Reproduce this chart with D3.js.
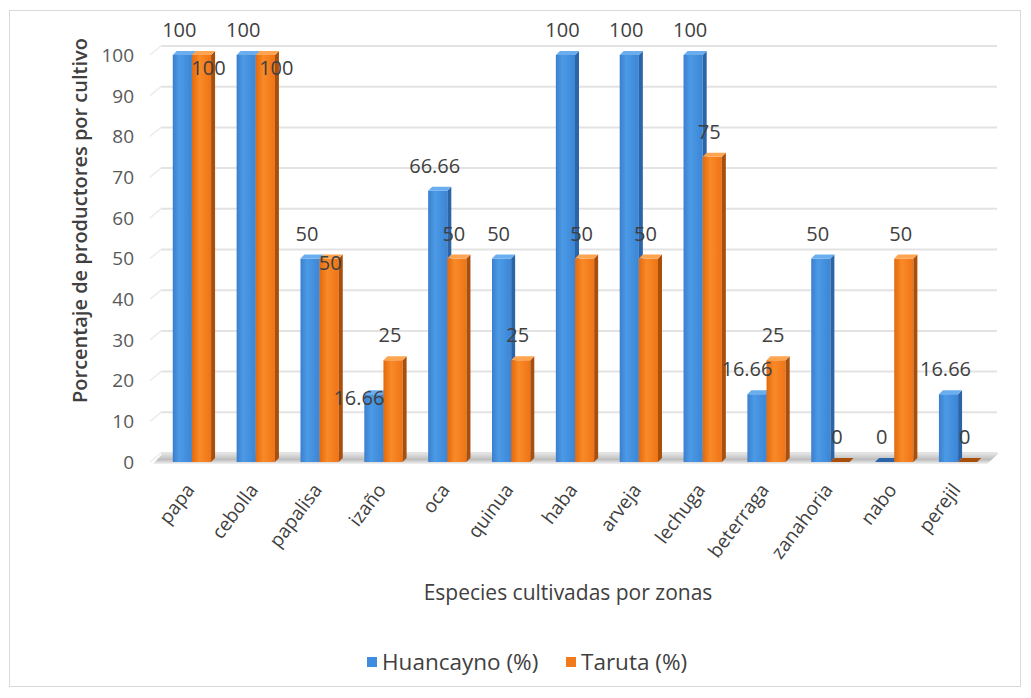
<!DOCTYPE html>
<html>
<head>
<meta charset="utf-8">
<script src="https://cdn.jsdelivr.net/npm/d3@7"></script>
<style>
  body { margin: 0; background: #fff; }
  svg text { font-family: "Open Sans", Lato, sans-serif; }
</style>
</head>
<body>
<svg id="chart" width="1031" height="698"></svg>
<script>
// Crop species and the share of producers growing each one, per zone
const categories = ["papa", "cebolla", "papalisa", "izaño", "oca", "quinua", "haba",
  "arveja", "lechuga", "beterraga", "zanahoria", "nabo", "perejil"];
const huancayno = [100, 100, 50, 16.66, 66.66, 50, 100, 100, 100, 16.66, 50, 0, 16.66];
const taruta = [100, 100, 50, 25, 50, 25, 50, 50, 75, 25, 0, 50, 0];
const seriesNames = ["Huancayno (%)", "Taruta (%)"];
const yTicks = [0, 10, 20, 30, 40, 50, 60, 70, 80, 90, 100];

const svg = d3.select("#chart");
const W = 1031, H = 698;

// 3D depth offset of the bars and of the back wall
const depthX = 4, depthY = 4;
const wallDX = 9, wallDY = 9;

const x = d3.scaleBand().domain(categories).range([160, 990]).paddingInner(0.4).paddingOuter(0.2);
const xSub = d3.scaleBand().domain(["h", "t"]).range([0, x.bandwidth()]);
const y = d3.scaleLinear().domain([0, 100]).range([462, 55]);

// outer frame
svg.append("rect").attr("x", 9.5).attr("y", 10.5).attr("width", W - 20).attr("height", H - 22)
  .attr("fill", "#fff").attr("stroke", "#d9d9d9");

const defs = svg.append("defs");
function grad(id, stops) {
  const g = defs.append("linearGradient").attr("id", id).attr("x1", 0).attr("x2", 1).attr("y1", 0).attr("y2", 0);
  stops.forEach(([o, c]) => g.append("stop").attr("offset", o).attr("stop-color", c));
}
grad("blueFront", [[0, "#3a7fcf"], [0.35, "#4c9ae6"], [1, "#3b86d6"]]);
grad("orangeFront", [[0, "#e3690f"], [0.4, "#f98a26"], [1, "#ef7417"]]);
const floorG = defs.append("linearGradient").attr("id", "floorGrad").attr("x1", 0).attr("x2", 0).attr("y1", 0).attr("y2", 1);
floorG.append("stop").attr("offset", 0).attr("stop-color", "#e6e6e6");
floorG.append("stop").attr("offset", 0.6).attr("stop-color", "#bdbdbd");
floorG.append("stop").attr("offset", 1).attr("stop-color", "#f2f2f2");

// back wall gridlines and the short side-wall segments
const grid = svg.append("g");
yTicks.forEach(t => {
  const yy = y(t) - wallDY;
  grid.append("line").attr("x1", 152 + wallDX).attr("x2", 997).attr("y1", yy).attr("y2", yy)
    .attr("stroke", "#e3e3e3").attr("stroke-width", 2);
  grid.append("line").attr("x1", 150).attr("y1", y(t)).attr("x2", 152 + wallDX).attr("y2", yy)
    .attr("stroke", "#ececec").attr("stroke-width", 1.5);
});

// floor
svg.append("path")
  .attr("d", `M163,${y(0) - wallDY} L999,${y(0) - wallDY} L987,${y(0) + 2} L153,${y(0) + 2} Z`)
  .attr("fill", "url(#floorGrad)");

// y-axis tick labels
svg.append("g").selectAll("text").data(yTicks).join("text")
  .attr("x", 134).attr("y", d => y(d)).attr("dy", "0.36em")
  .attr("text-anchor", "end").attr("font-size", 19).attr("fill", "#595959")
  .text(d => d);

// bars
const series = [
  { key: "h", values: huancayno, front: "url(#blueFront)", side: "#2c64a8", top: "#6aaef0" },
  { key: "t", values: taruta, front: "url(#orangeFront)", side: "#a94f0c", top: "#ffa450" }
];
const bars = svg.append("g");
series.forEach(s => {
  categories.forEach((c, i) => {
    const v = s.values[i];
    const x0 = x(c) + xSub(s.key), w = xSub.bandwidth();
    const y0 = y(v), base = y(0);
    const g = bars.append("g");
    if (base - y0 > 0.5) {
      g.append("rect").attr("x", x0).attr("y", y0).attr("width", w).attr("height", base - y0)
        .attr("fill", s.front);
    }
    g.append("path")
      .attr("d", `M${x0 + w},${y0} L${x0 + w + depthX},${y0 - depthY} L${x0 + w + depthX},${base - depthY} L${x0 + w},${base} Z`)
      .attr("fill", s.side);
    g.append("path")
      .attr("d", `M${x0},${y0} L${x0 + depthX},${y0 - depthY} L${x0 + w + depthX},${y0 - depthY} L${x0 + w},${y0} Z`)
      .attr("fill", v === 0 ? s.side : s.top);
  });
});

// data labels; a few are pushed aside where they would collide
const nudge = { "t0": [10, 38], "t1": [14, 38], "t2": [4, 29], "h3": [-12, 29], "h9": [-7, 0] };
const labels = svg.append("g");
series.forEach(s => {
  categories.forEach((c, i) => {
    const v = s.values[i];
    const [dx, dy] = nudge[s.key + i] || [0, 0];
    labels.append("text")
      .attr("x", x(c) + xSub(s.key) + xSub.bandwidth() / 2 - 3 + dx)
      .attr("y", y(v) - 25 + dy).attr("dy", "0.36em")
      .attr("text-anchor", "middle").attr("font-size", 20).attr("fill", "#404040")
      .text(v);
  });
});

// category labels
svg.append("g").selectAll("text").data(categories).join("text")
  .attr("transform", d => `translate(${x(d) + x.bandwidth() / 2 - 2},${486}) rotate(-53)`)
  .attr("text-anchor", "end").attr("dy", "0.35em")
  .attr("font-size", 19).attr("fill", "#404040")
  .text(d => d);

// axis titles
svg.append("text")
  .attr("transform", `translate(80,${y(50) - 38}) rotate(-90)`)
  .attr("text-anchor", "middle").attr("dy", "0.35em")
  .attr("font-size", 20).attr("font-weight", 600).attr("fill", "#404040")
  .text("Porcentaje de productores por cultivo");
svg.append("text").attr("x", 568).attr("y", 593).attr("dy", "0.35em")
  .attr("text-anchor", "middle").attr("font-size", 21).attr("fill", "#404040")
  .text("Especies cultivadas por zonas");

// legend
const legend = svg.append("g");
const legendColors = ["#3f8ddd", "#f07a1c"];
const legendX = [367, 566];
seriesNames.forEach((name, i) => {
  legend.append("rect").attr("x", legendX[i]).attr("y", 657).attr("width", 10).attr("height", 10)
    .attr("fill", legendColors[i]);
  legend.append("text").attr("x", legendX[i] + 15).attr("y", 662).attr("dy", "0.36em")
    .attr("font-size", 22.5).attr("fill", "#404040").text(name);
});
</script>
</body>
</html>
